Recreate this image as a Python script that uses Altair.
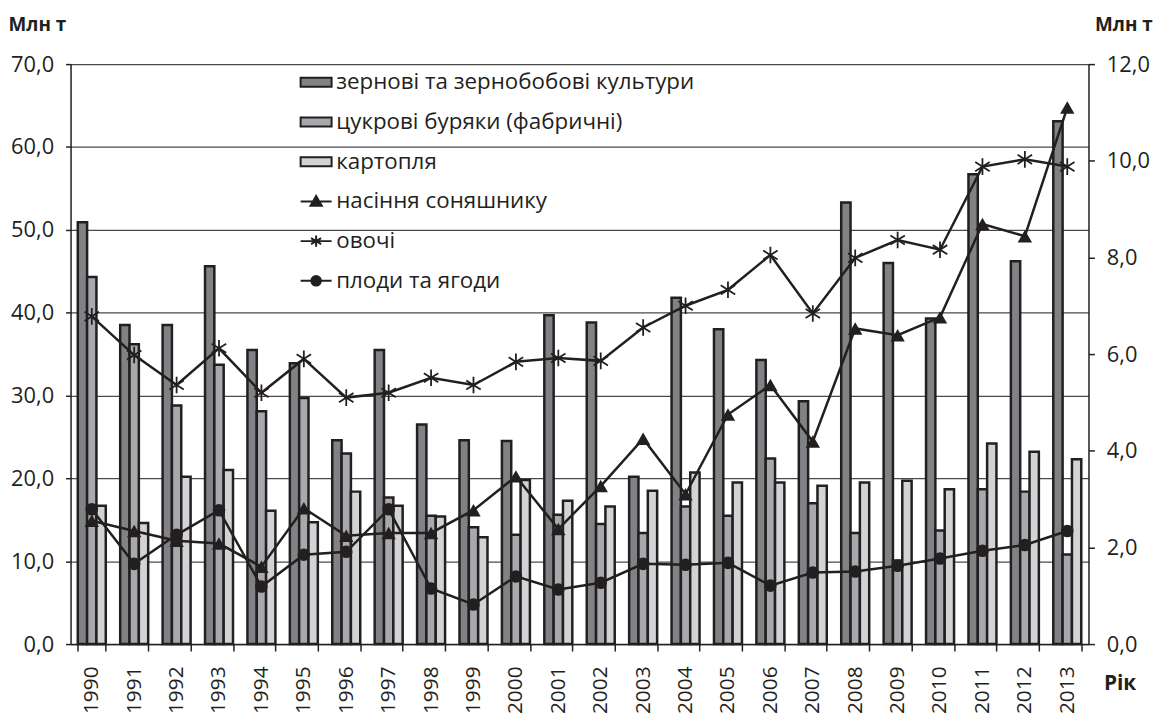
import altair as alt
import pandas as pd

years = [str(y) for y in range(1990, 2014)]

crops = ["зернові та зернобобові культури", "цукрові буряки (фабричні)", "картопля"]
lines_names = ["насіння соняшнику", "овочі", "плоди та ягоди"]

grain = [50.9, 38.5, 38.5, 45.6, 35.5, 33.9, 24.6, 35.5, 26.5, 24.6, 24.5, 39.7,
         38.8, 20.2, 41.8, 38.0, 34.3, 29.3, 53.3, 46.0, 39.3, 56.7, 46.2, 63.1]
beet = [44.3, 36.2, 28.8, 33.7, 28.1, 29.7, 23.0, 17.7, 15.5, 14.1, 13.2, 15.6,
        14.5, 13.4, 16.6, 15.5, 22.4, 17.0, 13.4, 10.1, 13.7, 18.7, 18.4, 10.8]
potato = [16.7, 14.6, 20.2, 21.0, 16.1, 14.7, 18.4, 16.7, 15.4, 12.9, 19.8, 17.3,
          16.6, 18.5, 20.7, 19.5, 19.5, 19.1, 19.5, 19.7, 18.7, 24.2, 23.2, 22.3]

sunflower = [2.55, 2.34, 2.14, 2.08, 1.6, 2.81, 2.24, 2.3, 2.3, 2.77, 3.47, 2.38,
             3.27, 4.25, 3.1, 4.75, 5.36, 4.19, 6.53, 6.39, 6.76, 8.69, 8.44, 11.1]
vegetables = [6.78, 5.98, 5.36, 6.12, 5.2, 5.9, 5.1, 5.2, 5.51, 5.36, 5.84, 5.92,
              5.86, 6.55, 7.0, 7.33, 8.05, 6.84, 7.99, 8.36, 8.16, 9.88, 10.03, 9.88]
fruits = [2.79, 1.66, 2.26, 2.77, 1.19, 1.85, 1.91, 2.79, 1.15, 0.82, 1.40, 1.13,
          1.27, 1.66, 1.64, 1.68, 1.21, 1.48, 1.50, 1.62, 1.77, 1.93, 2.05, 2.34]

bar_greys = ["#818285", "#a8a9ac", "#d2d3d5"]
ink = "#231f20"
FONT = "Open Sans"

bar_rows = []
for name, vals in zip(crops, [grain, beet, potato]):
    for y, v in zip(years, vals):
        bar_rows.append({"year": y, "crop": name, "value": v})
bar_df = pd.DataFrame(bar_rows)

line_rows = []
for name, vals in zip(lines_names, [sunflower, vegetables, fruits]):
    for y, v in zip(years, vals):
        line_rows.append({"year": y, "series": name, "value": v})
line_df = pd.DataFrame(line_rows)

num_label = "replace(format(datum.value, '.1f'), '.', ',')"

x_enc = alt.X(
    "year:N", sort=years,
    scale=alt.Scale(paddingInner=0.34, paddingOuter=0.17),
    axis=alt.Axis(labelAngle=-90, tickBand="extent", tickSize=7, labelPadding=15,
                  labelFontSize=21,
                  grid=False, title="Рік", titleX=1040, titleY=40, titleFontSize=21,
                  titleAlign="left", titleBaseline="middle",
                  titleFontWeight="bold"),
)

bars = alt.Chart(bar_df).mark_bar(stroke=ink, strokeWidth=2.5, strokeOpacity=1).encode(
    x=x_enc,
    xOffset=alt.XOffset("crop:N", sort=crops,
                        scale=alt.Scale(domain=crops, paddingInner=0, paddingOuter=0)),
    y=alt.Y("value:Q", scale=alt.Scale(domain=[0, 70], nice=False),
            axis=alt.Axis(values=list(range(0, 71, 10)), grid=True,
                          gridColor="#4a4a4a", gridWidth=1.3, tickSize=5,
                          labelPadding=12, labelExpr=num_label,
                          title="Млн т", titleAngle=0, titleAlign="left",
                          titleBaseline="middle", titleX=-63, titleY=-40,
                          titleFontWeight="bold")),
    fill=alt.Fill("crop:N", scale=alt.Scale(domain=crops, range=bar_greys), legend=None),
)

right_base = alt.Chart(line_df).encode(
    x=x_enc,
    y=alt.Y("value:Q", scale=alt.Scale(domain=[0, 12], nice=False),
            axis=alt.Axis(orient="right", values=list(range(0, 13, 2)), grid=False,
                          tickSize=6, labelPadding=12, labelExpr=num_label,
                          title="Млн т", titleAngle=0, titleAlign="left",
                          titleBaseline="middle", titleX=6, titleY=-40,
                          titleFontWeight="bold")),
)

star_path = "M0,-1V1M-0.87,-0.55L0.87,0.55M-0.87,0.55L0.87,-0.55"

line = right_base.mark_line(color=ink, strokeWidth=2.5).encode(detail="series:N")
tri = right_base.transform_filter(alt.datum.series == lines_names[0]).mark_point(
    shape="triangle-up", filled=True, color=ink, size=210, opacity=1)
star = right_base.transform_filter(alt.datum.series == lines_names[1]).mark_point(
    shape=star_path, filled=False, color=ink, strokeWidth=1.8, size=280, opacity=1)
circ = right_base.transform_filter(alt.datum.series == lines_names[2]).mark_point(
    shape="circle", filled=True, color=ink, size=160, opacity=1)

right = alt.layer(line, tri, star, circ)

all_series = crops + lines_names
legend_paths = [
    "M-2.6,-0.75H2.6V0.75H-2.6Z",
    "M-2.6,-0.75H2.6V0.75H-2.6Z",
    "M-2.6,-0.75H2.6V0.75H-2.6Z",
    "M-2.6,0H2.6M-0.95,0.75L0,-0.9L0.95,0.75Z",
    "M-2.6,0H2.6M0,-0.95V0.95M-0.85,-0.5L0.85,0.5M-0.85,0.5L0.85,-0.5",
    "M-2.6,0H2.6M-0.8,0A0.8,0.8 0 1,0 0.8,0A0.8,0.8 0 1,0 -0.8,0Z",
]
legend_fills = bar_greys + [ink, ink, ink]
legend_strokes = [ink] * 6
leg = alt.Legend(title=None, orient="none", legendX=236, legendY=7,
                 labelFont=FONT, labelFontSize=22.5, labelColor=ink, labelLimit=600,
                 symbolSize=144, symbolStrokeWidth=2,
                 labelOffset=9, rowPadding=17, padding=0, symbolOpacity=1)

legend_df = pd.DataFrame({"series": all_series})
legend_layer = alt.Chart(legend_df).transform_filter("false").mark_point(
    filled=True, strokeWidth=2, size=144, opacity=1).encode(
    shape=alt.Shape("series:N", scale=alt.Scale(domain=all_series, range=legend_paths), legend=leg),
    fill=alt.Fill("series:N", scale=alt.Scale(domain=all_series, range=legend_fills), legend=leg),
    stroke=alt.Stroke("series:N", scale=alt.Scale(domain=all_series, range=legend_strokes), legend=leg),
)

chart = alt.layer(bars, right, legend_layer).resolve_scale(
    y="independent", shape="independent", fill="independent", stroke="independent"
).properties(
    width=1025, height=584,
    autosize=alt.AutoSizeParams(type="none"),
    padding={"left": 63, "top": 54, "right": 70, "bottom": 80},
).configure_view(stroke=None).configure_axis(
    labelFont=FONT, labelFontSize=22, labelColor=ink,
    titleFont=FONT, titleFontSize=19, titleColor=ink,
    domainColor=ink, domainWidth=1.5, tickColor=ink, tickWidth=1.5,
)

chart.save("out.html", embed_options={"renderer": "svg", "actions": False})
